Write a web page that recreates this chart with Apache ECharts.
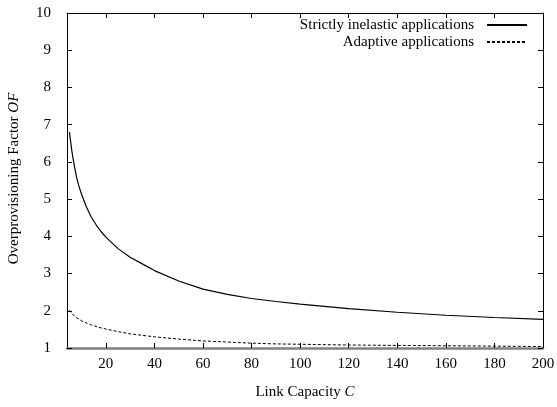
<!DOCTYPE html>
<html>
<head>
<meta charset="utf-8">
<script src="https://cdn.jsdelivr.net/npm/echarts@6/dist/echarts.min.js"></script>
<style>
  html, body { margin: 0; padding: 0; background: #fff; }
  #chart { width: 557px; height: 407px; }
</style>
</head>
<body>
<div id="chart"></div>
<script>
// Link capacity C (x values shared by both curves)
const capacity = [5, 6, 7, 8, 9, 10, 12, 14, 16, 18, 20, 25, 30, 35, 40, 50, 60, 70, 80, 90, 100, 120, 140, 160, 180, 200];
// Overprovisioning factor for strictly inelastic applications
const inelastic = [6.80, 6.29, 5.90, 5.57, 5.33, 5.13, 4.79, 4.52, 4.31, 4.13, 3.98, 3.67, 3.44, 3.26, 3.08, 2.80, 2.58, 2.44, 2.33, 2.25, 2.18, 2.06, 1.96, 1.88, 1.82, 1.77];
// Overprovisioning factor for adaptive applications
const adaptive = [2.02, 1.93, 1.86, 1.81, 1.77, 1.73, 1.67, 1.62, 1.58, 1.54, 1.51, 1.44, 1.38, 1.34, 1.30, 1.24, 1.19, 1.16, 1.13, 1.11, 1.10, 1.08, 1.07, 1.06, 1.05, 1.04];
// Tick positions on the capacity axis
const xTicks = [20, 40, 60, 80, 100, 120, 140, 160, 180, 200];
const seriesNames = ['Strictly inelastic applications', 'Adaptive applications'];

const FONT = 'Liberation Serif';
const pairs = (ys) => capacity.map((c, i) => [c, ys[i]]);

const chart = echarts.init(document.getElementById('chart'), null, { renderer: 'canvas' });

const xCommon = {
  type: 'value', min: 4, max: 200,
  splitLine: { show: false }
};
const yCommon = {
  type: 'value', min: 1, max: 10, interval: 1,
  splitLine: { show: false }
};

chart.setOption({
  animation: false,
  backgroundColor: '#fff',
  grid: { left: 67, right: 14, top: 13, bottom: 59, containLabel: false, outerBoundsMode: 'none' },
  legend: {
    orient: 'vertical',
    right: 29,
    top: 17,
    padding: 0,
    align: 'right',
    itemWidth: 40,
    itemHeight: 10,
    itemGap: 1,
    itemStyle: { opacity: 0 },
    textStyle: { fontFamily: FONT, fontSize: 15, lineHeight: 16, color: '#000', padding: [0, 8, 0, 0] },
    data: seriesNames
  },
  xAxis: [
    Object.assign({}, xCommon, {
      position: 'bottom',
      name: '{n|Link Capacity }{i|C}',
      nameLocation: 'middle',
      nameGap: 37,
      nameTextStyle: {
        rich: {
          n: { fontFamily: FONT, fontSize: 15, color: '#000' },
          i: { fontFamily: FONT, fontSize: 15, color: '#000', fontStyle: 'italic' }
        }
      },
      axisLine: { show: true, lineStyle: { color: '#808080', width: 2.5 } },
      axisTick: { show: true, inside: true, length: 5, customValues: xTicks, lineStyle: { color: '#000', width: 1 } },
      axisLabel: { show: true, customValues: xTicks, margin: 9, fontFamily: FONT, fontSize: 15, color: '#000' }
    }),
    Object.assign({}, xCommon, {
      position: 'top',
      axisLine: { show: true, lineStyle: { color: '#000', width: 1 } },
      axisTick: { show: true, inside: true, length: 5, customValues: xTicks, lineStyle: { color: '#000', width: 1 } },
      axisLabel: { show: false }
    })
  ],
  yAxis: [
    Object.assign({}, yCommon, {
      position: 'left',
      name: '{n|Overprovisioning Factor }{i|OF}',
      nameLocation: 'middle',
      nameGap: 45,
      nameRotate: 90,
      nameTextStyle: {
        padding: [0, 0, 0, 4],
        rich: {
          n: { fontFamily: FONT, fontSize: 15, color: '#000' },
          i: { fontFamily: FONT, fontSize: 15, color: '#000', fontStyle: 'italic' }
        }
      },
      axisLine: { show: true, lineStyle: { color: '#000', width: 1 } },
      axisTick: { show: true, inside: true, length: 5, lineStyle: { color: '#000', width: 1 } },
      axisLabel: { show: true, margin: 16, fontFamily: FONT, fontSize: 15, color: '#000' }
    }),
    Object.assign({}, yCommon, {
      position: 'right',
      axisLine: { show: true, lineStyle: { color: '#000', width: 1 } },
      axisTick: { show: true, inside: true, length: 5, lineStyle: { color: '#000', width: 1 } },
      axisLabel: { show: false }
    })
  ],
  series: [
    {
      name: seriesNames[0],
      type: 'line',
      xAxisIndex: 0, yAxisIndex: 0,
      data: pairs(inelastic),
      smooth: false,
      symbol: 'none',
      lineStyle: { color: '#000', width: 1.2, type: 'solid' },
      itemStyle: { color: '#000' }
    },
    {
      name: seriesNames[1],
      type: 'line',
      xAxisIndex: 0, yAxisIndex: 0,
      data: pairs(adaptive),
      smooth: false,
      symbol: 'none',
      lineStyle: { color: '#000', width: 1, type: [3, 2] },
      itemStyle: { color: '#000' }
    }
  ]
});
</script>
</body>
</html>
